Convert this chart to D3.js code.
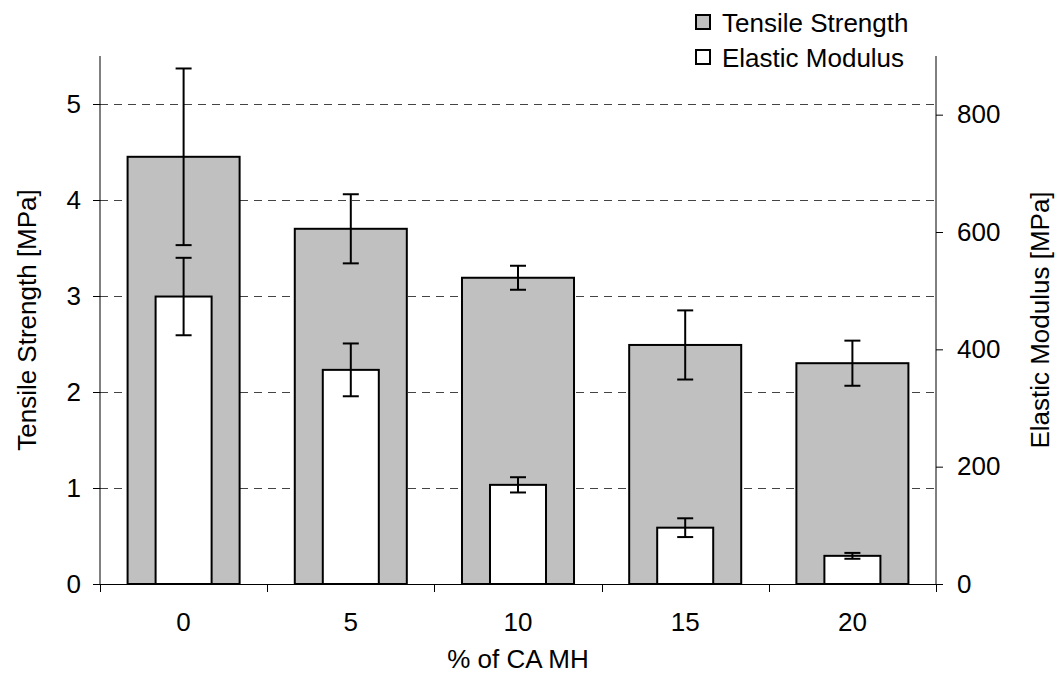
<!DOCTYPE html>
<html>
<head>
<meta charset="utf-8">
<script src="https://cdn.jsdelivr.net/npm/d3@7"></script>
<style>
  body { margin: 0; background: #fff; }
  svg text { font-family: Arial, "Liberation Sans", sans-serif; fill: #000; }
</style>
</head>
<body>
<svg id="chart" width="1057" height="683"></svg>
<script>
const categories = ["0", "5", "10", "15", "20"];
const tensile = [4.45, 3.70, 3.19, 2.49, 2.30];
const tensileErr = [0.92, 0.36, 0.125, 0.36, 0.235];
const modulus = [490, 365, 169, 96, 48];
const modulusErr = [66, 45, 13, 16, 5];
const leftTicks = [0, 1, 2, 3, 4, 5];
const rightTicks = [0, 200, 400, 600, 800];
const seriesNames = ["Tensile Strength", "Elastic Modulus"];

const svg = d3.select("#chart");
const L = 100, R = 936, T = 56, B = 584;
const fs = 26;

const x = d3.scaleBand().domain(categories).range([L, R]).paddingInner(0).paddingOuter(0);
const yL = d3.scaleLinear().domain([0, 5.5]).range([B, T]);
const yR = d3.scaleLinear().domain([0, 900]).range([B, T]);

// gridlines
svg.append("g").selectAll("line").data(leftTicks.filter(d => d > 0)).join("line")
  .attr("x1", L).attr("x2", R)
  .attr("y1", d => Math.round(yL(d)) + 0.5).attr("y2", d => Math.round(yL(d)) + 0.5)
  .attr("stroke", "#444").attr("stroke-width", 1).attr("stroke-dasharray", "8,6");

const bw = x.bandwidth();
const grayW = bw * 0.67, whiteW = bw * 0.335;

// gray bars
svg.append("g").selectAll("rect").data(tensile).join("rect")
  .attr("x", (d, i) => x(categories[i]) + (bw - grayW) / 2)
  .attr("width", grayW)
  .attr("y", d => yL(d)).attr("height", d => B - yL(d))
  .attr("fill", "#c0c0c0").attr("stroke", "#000").attr("stroke-width", 2);

// white bars
svg.append("g").selectAll("rect").data(modulus).join("rect")
  .attr("x", (d, i) => x(categories[i]) + (bw - whiteW) / 2)
  .attr("width", whiteW)
  .attr("y", d => yR(d)).attr("height", d => B - yR(d))
  .attr("fill", "#fff").attr("stroke", "#000").attr("stroke-width", 2);

function errBars(vals, errs, y) {
  const g = svg.append("g").attr("stroke", "#000").attr("stroke-width", 2);
  vals.forEach((v, i) => {
    const cx = x(categories[i]) + bw / 2;
    const y1 = y(v + errs[i]), y2 = y(v - errs[i]);
    g.append("line").attr("x1", cx).attr("x2", cx).attr("y1", y1).attr("y2", y2);
    g.append("line").attr("x1", cx - 8).attr("x2", cx + 8).attr("y1", y1).attr("y2", y1);
    g.append("line").attr("x1", cx - 8).attr("x2", cx + 8).attr("y1", y2).attr("y2", y2);
  });
}
errBars(tensile, tensileErr, yL);
errBars(modulus, modulusErr, yR);

// axes
const axL = svg.append("g").attr("transform", `translate(${L},0)`)
  .call(d3.axisLeft(yL).tickValues(leftTicks).tickFormat(d3.format("d")).tickSize(7).tickPadding(12));
const axR = svg.append("g").attr("transform", `translate(${R},0)`)
  .call(d3.axisRight(yR).tickValues(rightTicks).tickFormat(d3.format("d")).tickSize(7).tickPadding(14));
[axL, axR].forEach(a => {
  a.select(".domain").attr("stroke", "#000").attr("stroke-width", 1).attr("d", `M0,${T}V${B}`);
  a.selectAll(".tick line").attr("stroke", "#000");
  a.selectAll(".tick text").attr("font-size", fs).attr("font-family", "Arial, 'Liberation Sans', sans-serif");
});

// x axis line and boundary ticks
const xg = svg.append("g");
xg.append("line").attr("x1", L).attr("x2", R).attr("y1", B + 0.5).attr("y2", B + 0.5).attr("stroke", "#000");
const bounds = categories.map(c => x(c)).concat([R]);
xg.selectAll(".bt").data(bounds).join("line").attr("class", "bt")
  .attr("x1", d => Math.round(d) + 0.5).attr("x2", d => Math.round(d) + 0.5)
  .attr("y1", B).attr("y2", B + 8).attr("stroke", "#000");
xg.selectAll("text").data(categories).join("text")
  .attr("x", d => x(d) + bw / 2).attr("y", 631)
  .attr("text-anchor", "middle").attr("font-size", fs).text(d => d);

// axis titles
svg.append("text").attr("x", 518).attr("y", 668).attr("text-anchor", "middle")
  .attr("font-size", fs).text("% of CA MH");
svg.append("text").attr("transform", `translate(36,${(T + B) / 2}) rotate(-90)`)
  .attr("text-anchor", "middle").attr("font-size", fs).text("Tensile Strength [MPa]");
svg.append("text").attr("transform", `translate(1049,${(T + B) / 2}) rotate(-90)`)
  .attr("text-anchor", "middle").attr("font-size", fs).text("Elastic Modulus [MPa]");

// legend
const legFills = ["#c0c0c0", "#fff"];
const lg = svg.append("g");
seriesNames.forEach((n, i) => {
  const yy = 15 + i * 35;
  lg.append("rect").attr("x", 696).attr("y", yy).attr("width", 14).attr("height", 14)
    .attr("fill", legFills[i]).attr("stroke", "#000").attr("stroke-width", 2);
  lg.append("text").attr("x", 722).attr("y", yy + 17).attr("font-size", fs).text(n);
});
</script>
</body>
</html>
